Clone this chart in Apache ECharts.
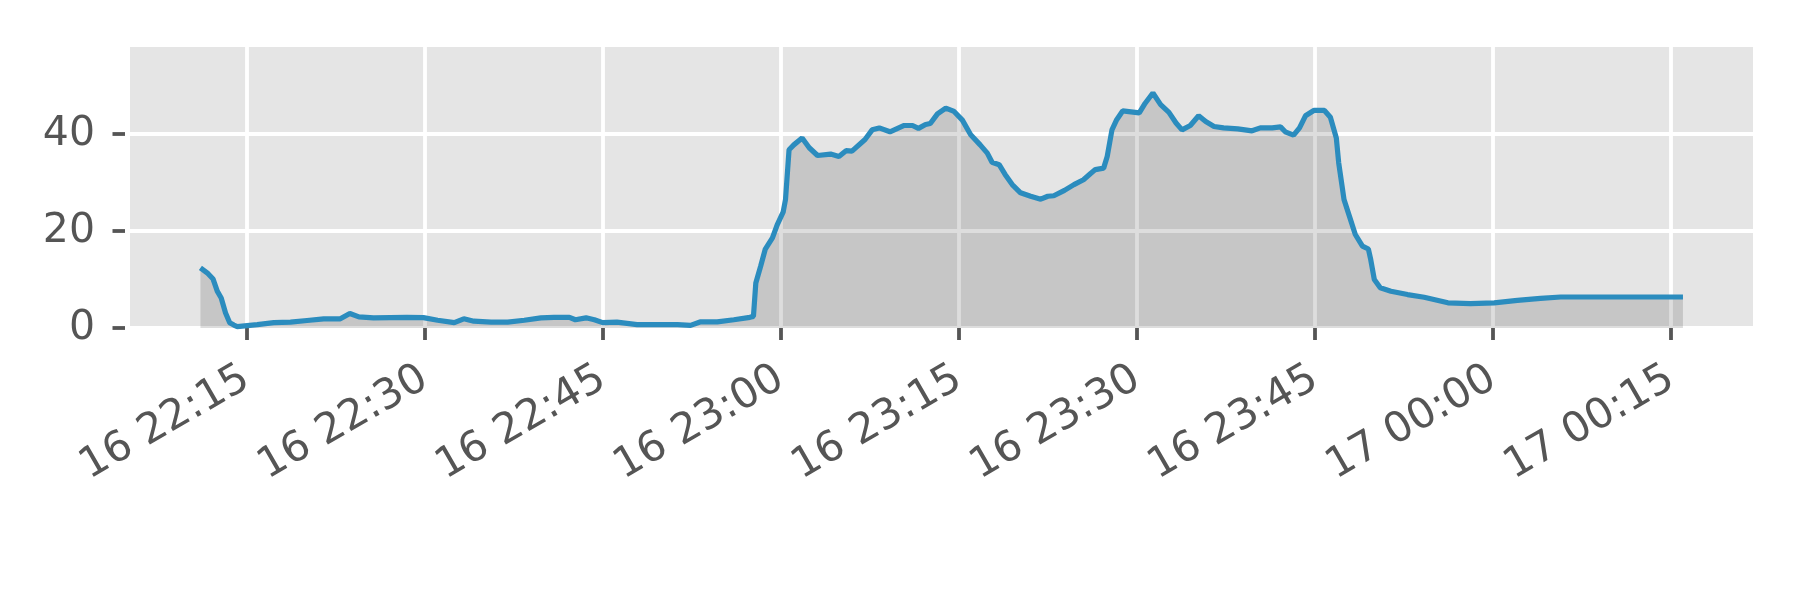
<!DOCTYPE html>
<html>
<head>
<meta charset="utf-8">
<script src="https://cdn.jsdelivr.net/npm/echarts@6/dist/echarts.min.js"></script>
<style>
  html, body { margin: 0; padding: 0; background: #fff; }
  #chart { width: 1800px; height: 600px; }
</style>
</head>
<body>
<div id="chart"></div>
<script>
// sample times (16th evening, rolling over to the 17th after midnight)
var times = [
  '22:11:07', '22:11:41', '22:12:11', '22:12:32', '22:12:52', '22:13:14', '22:13:35', '22:13:56', '22:14:13',
  '22:15:54', '22:17:18', '22:18:42', '22:20:06', '22:21:30', '22:22:54', '22:23:42', '22:24:28', '22:25:42',
  '22:27:06', '22:28:30', '22:29:54', '22:31:06', '22:32:30', '22:33:18', '22:34:09', '22:35:36', '22:37:00',
  '22:38:24', '22:39:48', '22:40:54', '22:42:12', '22:42:42', '22:43:36', '22:44:18', '22:45:00', '22:46:12',
  '22:47:54', '22:49:36', '22:51:18', '22:52:24', '22:53:12', '22:54:39', '22:56:03', '22:57:24', '22:57:42',
  '22:57:54', '22:58:18', '22:58:42', '22:59:18', '22:59:42', '23:00:12', '23:00:24', '23:00:42', '23:01:06',
  '23:01:48', '23:02:24', '23:03:06', '23:04:12', '23:04:54', '23:05:30', '23:06:00', '23:07:06', '23:07:42',
  '23:08:18', '23:09:12', '23:10:24', '23:11:06', '23:11:36', '23:12:12', '23:12:36', '23:13:12', '23:13:54',
  '23:14:36', '23:15:18', '23:16:00', '23:16:48', '23:17:24', '23:17:48', '23:18:24', '23:18:54', '23:19:30',
  '23:20:12', '23:21:03', '23:21:54', '23:22:30', '23:23:00', '23:23:54', '23:24:42', '23:25:30', '23:26:06',
  '23:26:30', '23:27:12', '23:27:30', '23:27:54', '23:28:18', '23:28:48', '23:29:30', '23:30:12', '23:30:42',
  '23:31:21', '23:32:00', '23:32:42', '23:33:18', '23:33:48', '23:34:30', '23:35:12', '23:35:48', '23:36:30',
  '23:37:18', '23:38:30', '23:39:42', '23:40:24', '23:41:24', '23:42:06', '23:42:30', '23:43:12', '23:43:42',
  '23:44:12', '23:44:54', '23:45:48', '23:46:18', '23:46:48', '23:47:00', '23:47:27', '23:47:54', '23:48:24',
  '23:49:00', '23:49:30', '23:49:42', '23:50:00', '23:50:30', '23:51:24', '23:52:48', '23:54:12', '23:56:12',
  '23:58:06', '00:00:06', '00:02:03', '00:04:00', '00:05:42', '00:08:12', '00:11:00', '00:13:54', '00:16:00'
];
var values = [
  12.4, 11.4, 10.1, 7.6, 6.2, 3.1, 1.1, 0.6, 0.3,
  0.7, 1.1, 1.2, 1.55, 1.9, 1.9, 3.0, 2.3, 2.1,
  2.15, 2.2, 2.15, 1.6, 1.1, 1.9, 1.4, 1.2, 1.2,
  1.6, 2.1, 2.2, 2.2, 1.7, 2.1, 1.7, 1.1, 1.2,
  0.7, 0.7, 0.7, 0.55, 1.25, 1.25, 1.7, 2.2, 2.4,
  9.3, 12.7, 16.3, 18.6, 21.3, 23.9, 26.5, 36.8, 37.8,
  39.2, 37.2, 35.6, 35.9, 35.4, 36.6, 36.5, 38.9, 40.9,
  41.3, 40.5, 41.8, 41.8, 41.2, 42.0, 42.2, 44.2, 45.4,
  44.7, 42.9, 39.9, 37.8, 36.1, 34.2, 33.7, 31.7, 29.6,
  27.9, 27.2, 26.6, 27.2, 27.3, 28.4, 29.6, 30.6, 31.9,
  32.7, 33.0, 35.4, 40.9, 43.0, 44.8, 44.6, 44.4, 46.4,
  48.5, 46.1, 44.5, 42.3, 40.9, 41.8, 43.8, 42.6, 41.6,
  41.3, 41.1, 40.7, 41.3, 41.3, 41.5, 40.5, 39.8, 41.3,
  43.8, 44.9, 44.9, 43.5, 39.2, 34.1, 26.5, 23.1, 19.3,
  16.9, 16.3, 14.1, 10.0, 8.3, 7.6, 6.9, 6.35, 5.2,
  5.05, 5.2, 5.7, 6.1, 6.4, 6.4, 6.4, 6.4, 6.4
];
var xTickTimes = ['22:15', '22:30', '22:45', '23:00', '23:15', '23:30', '23:45', '00:00', '00:15'];
var yTicks = [0, 20, 40];

// hh:mm[:ss] -> timestamp, day 16 for evening, 17 after midnight
function toTs(str) {
  var p = str.split(':').map(Number);
  var day = p[0] < 12 ? 17 : 16;
  return new Date(2021, 0, day, p[0], p[1], p[2] || 0).getTime();
}

var seriesData = times.map(function (t, i) { return [toTs(t), values[i]]; });
var xTicks = xTickTimes.map(toTs);

function pad(n) { return (n < 10 ? '0' : '') + n; }
function fmtTime(v) {
  var d = new Date(v);
  return d.getDate() + ' ' + pad(d.getHours()) + ':' + pad(d.getMinutes());
}

var textColor = '#555555';
var font = 'DejaVu Sans';

var chart = echarts.init(document.getElementById('chart'), null, { renderer: 'canvas' });
chart.setOption({
  animation: false,
  backgroundColor: '#ffffff',
  grid: {
    left: 130, right: 47, top: 47, bottom: 272,
    show: true, backgroundColor: '#E5E5E5', borderWidth: 0,
    outerBoundsMode: 'none'
  },
  xAxis: {
    type: 'value',
    min: toTs('22:05:11'),
    max: toTs('00:21:54'),
    offset: 4,
    axisLine: { show: false },
    axisTick: {
      show: true, length: 12, customValues: xTicks,
      lineStyle: { color: textColor, width: 3.8 }
    },
    axisLabel: {
      customValues: xTicks,
      rotate: 30, margin: 44,
      color: textColor, fontSize: 42, fontFamily: font,
      formatter: function (v) { return fmtTime(v); }
    },
    splitLine: { show: true, lineStyle: { color: '#ffffff', width: 3.8 } }
  },
  yAxis: {
    type: 'value',
    min: 0, max: 58, interval: 20,
    offset: 5,
    axisLine: { show: false },
    axisTick: {
      show: true, length: 12.5, customValues: yTicks,
      lineStyle: { color: textColor, width: 3.8 }
    },
    axisLabel: {
      customValues: yTicks,
      margin: 30, color: textColor, fontSize: 41, fontFamily: font
    },
    splitLine: { show: true, lineStyle: { color: '#ffffff', width: 3.8 } }
  },
  series: [{
    type: 'line',
    data: seriesData,
    showSymbol: false,
    lineStyle: { color: '#2B8CBE', width: 5.2 },
    areaStyle: { color: 'rgba(0,0,0,0.135)', opacity: 1, origin: 'start' }
  }]
});
</script>
</body>
</html>
